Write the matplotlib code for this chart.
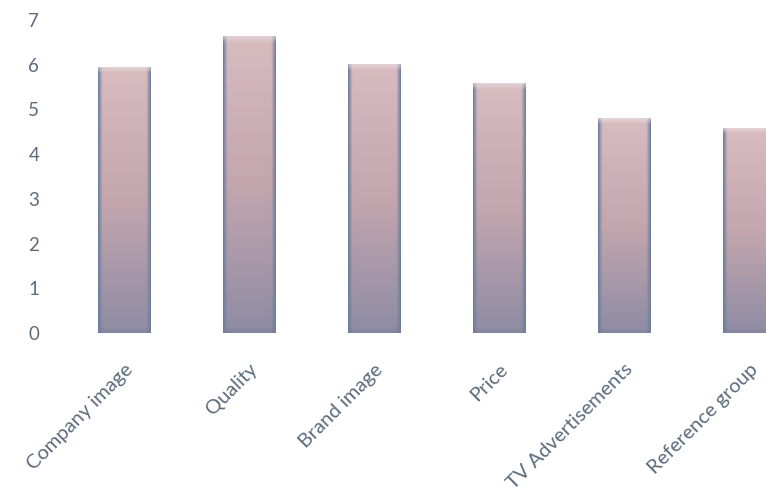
import numpy as np
import matplotlib
matplotlib.use("Agg")
import matplotlib.pyplot as plt

categories = ["Company image", "Quality", "Brand image", "Price",
              "TV Advertisements", "Reference group"]
values = [5.95, 6.65, 6.02, 5.58, 4.80, 4.58]
y_ticks = [0, 1, 2, 3, 4, 5, 6, 7]

plt.rcParams["font.family"] = ["Lato", "DejaVu Sans"]
text_color = "#5c6b7c"

W, H = 766, 498
fig = plt.figure(figsize=(W / 100, H / 100), dpi=100)
left, right = 61.5, 811.5
bottom, top = 333, 20
ax = fig.add_axes([left / W, (H - bottom) / H, (right - left) / W, (bottom - top) / H])

x = np.arange(len(categories))
bars = ax.bar(x, values, width=0.42, color="none", edgecolor="none", zorder=2)

# pink-to-slate vertical gradient with bluish shaded sides
ny, nx = 200, 60
t = np.linspace(0, 1, ny)[:, None]           # 0 = bottom, 1 = top
u = np.linspace(-1, 1, nx)[None, :]
top_c = np.array([216, 188, 192]) / 255
mid_c = np.array([196, 166, 174]) / 255
bot_c = np.array([142, 140, 164]) / 255
base = np.where(t[..., None] > 0.5,
                mid_c + (top_c - mid_c) * ((t[..., None] - 0.5) / 0.5),
                bot_c + (mid_c - bot_c) * (t[..., None] / 0.5))
base = np.broadcast_to(base, (ny, nx, 3)).copy()
edge_c = np.array([108, 126, 156]) / 255
edge_w = np.clip((np.abs(u) - 0.84) / 0.16, 0, 1) ** 1.0
img = base * (1 - edge_w[..., None]) + edge_c * edge_w[..., None]
# light rim at the top of each bar
rim = np.clip((t - 0.975) / 0.025, 0, 1)
img = img * (1 - 0.6 * rim[..., None]) + np.array([0.93, 0.89, 0.90]) * 0.6 * rim[..., None]
# darker foot
foot = np.clip((0.02 - t) / 0.02, 0, 1)
img = img * (1 - 0.4 * foot[..., None]) + np.array([0.45, 0.48, 0.58]) * 0.4 * foot[..., None]
img = img[::-1]

for b in bars:
    x0, w, h = b.get_x(), b.get_width(), b.get_height()
    im = ax.imshow(img, extent=[x0, x0 + w, 0, h], aspect="auto",
                   interpolation="bilinear", zorder=2)
    im.set_clip_path(b)

ax.set_xlim(-0.5, len(categories) - 0.5)
ax.set_ylim(0, 7)
ax.set_yticks(y_ticks)
ax.set_xticks(x)
ax.set_xticklabels(categories, rotation=45, ha="right", va="top",
                   rotation_mode="anchor")
for s in ax.spines.values():
    s.set_visible(False)
ax.tick_params(axis="y", length=0, pad=16, labelsize=13.5, labelcolor=text_color)
ax.tick_params(axis="x", length=0, pad=20, labelsize=14.5, labelcolor=text_color)

fig.savefig("out.png", dpi=100)
